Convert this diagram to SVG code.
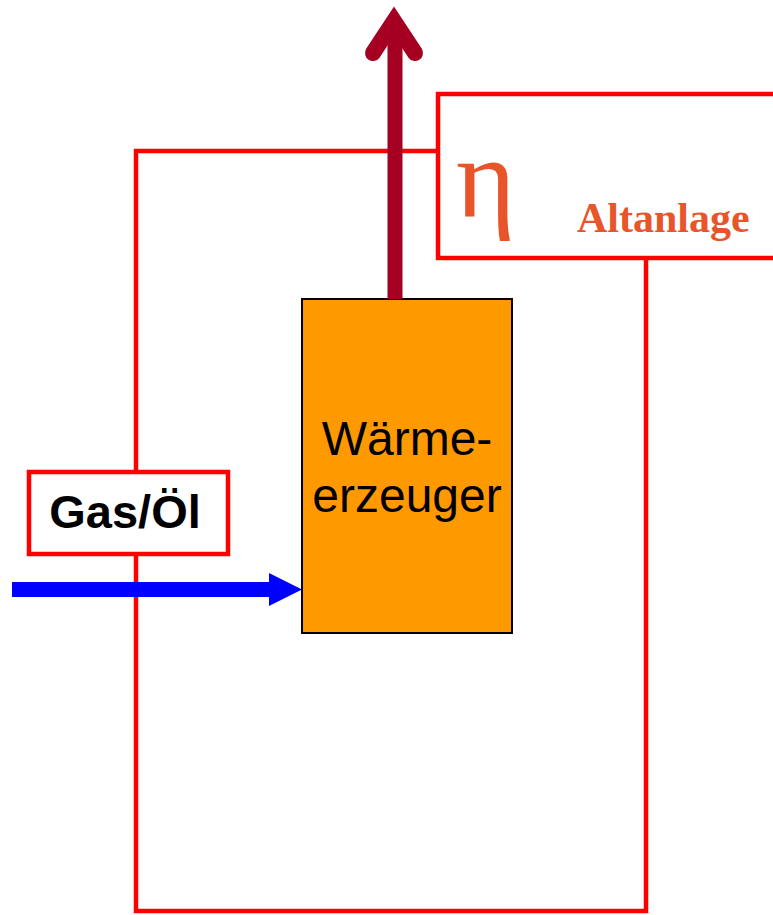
<svg xmlns="http://www.w3.org/2000/svg" width="773" height="915" viewBox="0 0 773 915">
<style>
.frame{fill:none;stroke:#FF0000;stroke-width:4.5}
.label{fill:#FFFFFF;stroke:#FF0000;stroke-width:4.5}
.sans{font-family:"Liberation Sans",Arial,sans-serif}
.serif{font-family:"Liberation Serif","Times New Roman",serif;fill:#E8552B}
</style>
<rect width="773" height="915" fill="#FFFFFF"/>
<g id="boundary">
<rect class="frame" x="136" y="151" width="510" height="760"/>
</g>
<g id="altanlage">
<rect class="label" x="438" y="94" width="345" height="164"/>
<text class="serif" x="456" y="217" font-size="114">η</text>
<text class="serif" x="577" y="232" font-size="42" font-weight="bold">Altanlage</text>
</g>
<g id="gasoel">
<rect class="label" x="29" y="472" width="199" height="82"/>
<text class="sans" x="125" y="528" font-size="47" font-weight="bold" text-anchor="middle" fill="#000000">Gas/Öl</text>
</g>
<g id="waermeerzeuger">
<rect x="302" y="299" width="210" height="334" fill="#FF9900" stroke="#000000" stroke-width="2"/>
<text class="sans" x="407" y="455" font-size="48" text-anchor="middle" fill="#000000">Wärme-</text>
<text class="sans" x="407" y="512" font-size="48" text-anchor="middle" fill="#000000">erzeuger</text>
</g>
<g id="connectors">
<path d="M395 299 L395 30" stroke="#A50021" stroke-width="15" fill="none"/>
<path d="M373 53 L394 21 L415 53" stroke="#A50021" stroke-width="16" stroke-linecap="round" stroke-linejoin="miter" stroke-miterlimit="10" fill="none"/>
<path d="M12 589.5 L272 589.5" stroke="#0000FF" stroke-width="15" fill="none"/>
<polygon points="269,573 302,589.5 269,606" fill="#0000FF"/>
</g>
</svg>
